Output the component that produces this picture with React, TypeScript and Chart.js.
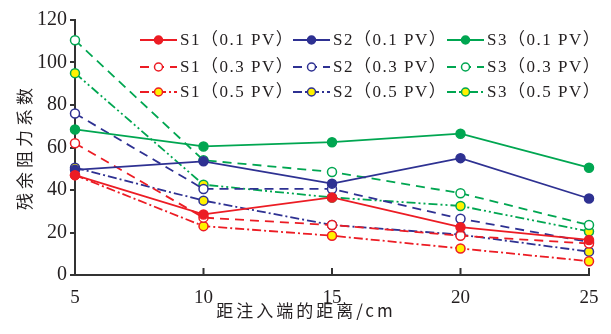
import React, { useEffect, useRef } from "react";
import { Chart, registerables } from "chart.js";

Chart.register(...registerables);

const distances = [5, 10, 15, 20, 25];
const yTicks = [0, 20, 40, 60, 80, 100, 120];

const s1_01 = [47, 28.5, 36.5, 22.5, 16.5];
const s2_01 = [49.5, 53.5, 43, 55, 36];
const s3_01 = [68.5, 60.5, 62.5, 66.5, 50.5];
const s1_03 = [62, 27, 23.5, 18.5, 14.8];
const s2_03 = [76, 40.5, 40.5, 26.5, 15.5];
const s3_03 = [110.5, 54, 48.5, 38.5, 23.5];
const s1_05 = [47, 23, 18.5, 12.5, 6.5];
const s2_05 = [50.5, 35, 23.5, 19, 11];
const s3_05 = [95, 42.5, 36.5, 32.5, 20.5];

const labels = [
  "S1（0.1 PV）", "S2（0.1 PV）", "S3（0.1 PV）",
  "S1（0.3 PV）", "S2（0.3 PV）", "S3（0.3 PV）",
  "S1（0.5 PV）", "S2（0.5 PV）", "S3（0.5 PV）",
];
const yTitle = "残余阻力系数";
const xTitle = "距注入端的距离/cm";

const RED = "#ec1c24";
const BLUE = "#2e3192";
const GREEN = "#00a651";
const YELLOW = "#fff200";
const AXIS = "#333333";
const TEXT = "#231f20";

const series = [s1_01, s2_01, s3_01, s1_03, s2_03, s3_03, s1_05, s2_05, s3_05];
const colors = [RED, BLUE, GREEN, RED, BLUE, GREEN, RED, BLUE, GREEN];
const dashFor = (i: number) => {
  const kind = Math.floor(i / 3);
  if (kind === 0) return [];
  if (kind === 1) return [9, 6];
  if (i === 8) return [9, 3, 2, 3, 2, 3];
  return [9, 3, 2, 3];
};
const fillFor = (i: number) => {
  const kind = Math.floor(i / 3);
  if (kind === 0) return colors[i];
  if (kind === 1) return "#ffffff";
  return YELLOW;
};

const overlayPlugin = {
  id: "overlay",
  afterDraw(chart: any) {
    const ctx = chart.ctx as CanvasRenderingContext2D;
    const xs = chart.scales.x;
    const area = chart.chartArea;
    ctx.save();
    ctx.strokeStyle = AXIS;
    ctx.lineWidth = 2;
    distances.forEach((d) => {
      const px = xs.getPixelForValue(d);
      ctx.beginPath();
      ctx.moveTo(px, area.bottom);
      ctx.lineTo(px, area.bottom - 7);
      ctx.stroke();
    });
    ctx.restore();

    ctx.save();
    ctx.fillStyle = TEXT;
    (ctx as any).letterSpacing = "4px";
    ctx.font = '17px "Noto Sans CJK SC", "Liberation Serif", serif';
    ctx.textAlign = "center";
    ctx.textBaseline = "middle";
    ctx.translate(25, 147);
    ctx.rotate(-Math.PI / 2);
    ctx.fillText(yTitle, 0, 0);
    ctx.restore();

    ctx.save();
    ctx.fillStyle = TEXT;
    (ctx as any).letterSpacing = "3px";
    ctx.font = '17px "Noto Sans CJK SC", "Liberation Serif", serif';
    ctx.textAlign = "center";
    ctx.textBaseline = "middle";
    ctx.fillText(xTitle, 306, 311);
    ctx.restore();

    const colX = [140, 293, 447];
    const rowY = [40, 67, 92];
    labels.forEach((lab, i) => {
      const c = i % 3;
      const r = Math.floor(i / 3);
      const x0 = colX[c];
      const y = rowY[r];
      ctx.save();
      ctx.strokeStyle = colors[i];
      ctx.lineWidth = 1.8;
      ctx.setLineDash(dashFor(i));
      ctx.beginPath();
      ctx.moveTo(x0, y);
      ctx.lineTo(x0 + 37, y);
      ctx.stroke();
      ctx.setLineDash([]);
      ctx.beginPath();
      ctx.arc(x0 + 18.5, y, 4, 0, Math.PI * 2);
      ctx.fillStyle = fillFor(i);
      ctx.fill();
      ctx.lineWidth = 1.5;
      ctx.stroke();
      ctx.fillStyle = TEXT;
      ctx.font = '17px "Liberation Serif", "Noto Sans CJK SC", serif';
      (ctx as any).letterSpacing = "1.5px";
      ctx.textAlign = "left";
      ctx.textBaseline = "middle";
      ctx.fillText(lab, x0 + 40, y + 1);
      ctx.restore();
    });
  },
};

export default function App() {
  const ref = useRef<HTMLCanvasElement | null>(null);
  useEffect(() => {
    if (!ref.current) return;
    const datasets = series.map((vals, i) => ({
      label: labels[i],
      data: vals.map((v, k) => ({ x: distances[k], y: v })),
      borderColor: colors[i],
      backgroundColor: fillFor(i),
      borderWidth: 1.8,
      borderDash: dashFor(i),
      pointRadius: 4.5,
      pointBorderWidth: 1.5,
      pointBorderColor: colors[i],
      pointBackgroundColor: fillFor(i),
      tension: 0,
      fill: false,
      clip: false as any,
    }));
    const chart = new Chart(ref.current, {
      type: "line",
      data: { datasets },
      options: {
        animation: false,
        responsive: true,
        maintainAspectRatio: false,
        layout: { padding: { top: 20, right: 22, left: 0, bottom: 0 } },
        plugins: { legend: { display: false }, tooltip: { enabled: false } },
        scales: {
          x: {
            type: "linear",
            min: 5,
            max: 25,
            afterFit: (s: any) => { s.height = 59; },
            afterBuildTicks: (s: any) => { s.ticks = distances.map((v) => ({ value: v })); },
            ticks: {
              padding: 12,
              color: TEXT,
              font: { family: '"Liberation Serif", serif', size: 19 },
            },
            grid: { display: true, drawOnChartArea: false, drawTicks: false },
            border: { display: true, color: AXIS, width: 2 },
          },
          y: {
            min: 0,
            max: 120,
            afterFit: (s: any) => { s.width = 75; },
            afterBuildTicks: (s: any) => { s.ticks = yTicks.map((v) => ({ value: v })); },
            ticks: {
              padding: 3,
              color: TEXT,
              font: { family: '"Liberation Serif", serif', size: 20 },
            },
            grid: { display: true, drawOnChartArea: false, drawTicks: true, tickLength: 5, color: AXIS, lineWidth: 2 },
            border: { display: true, color: AXIS, width: 2 },
          },
        },
      },
      plugins: [overlayPlugin],
    });
    return () => chart.destroy();
  }, []);
  return (
    <div style={{ position: "fixed", left: 0, top: 0, width: 611, height: 334, background: "#fff" }}>
      <canvas ref={ref} />
    </div>
  );
}
